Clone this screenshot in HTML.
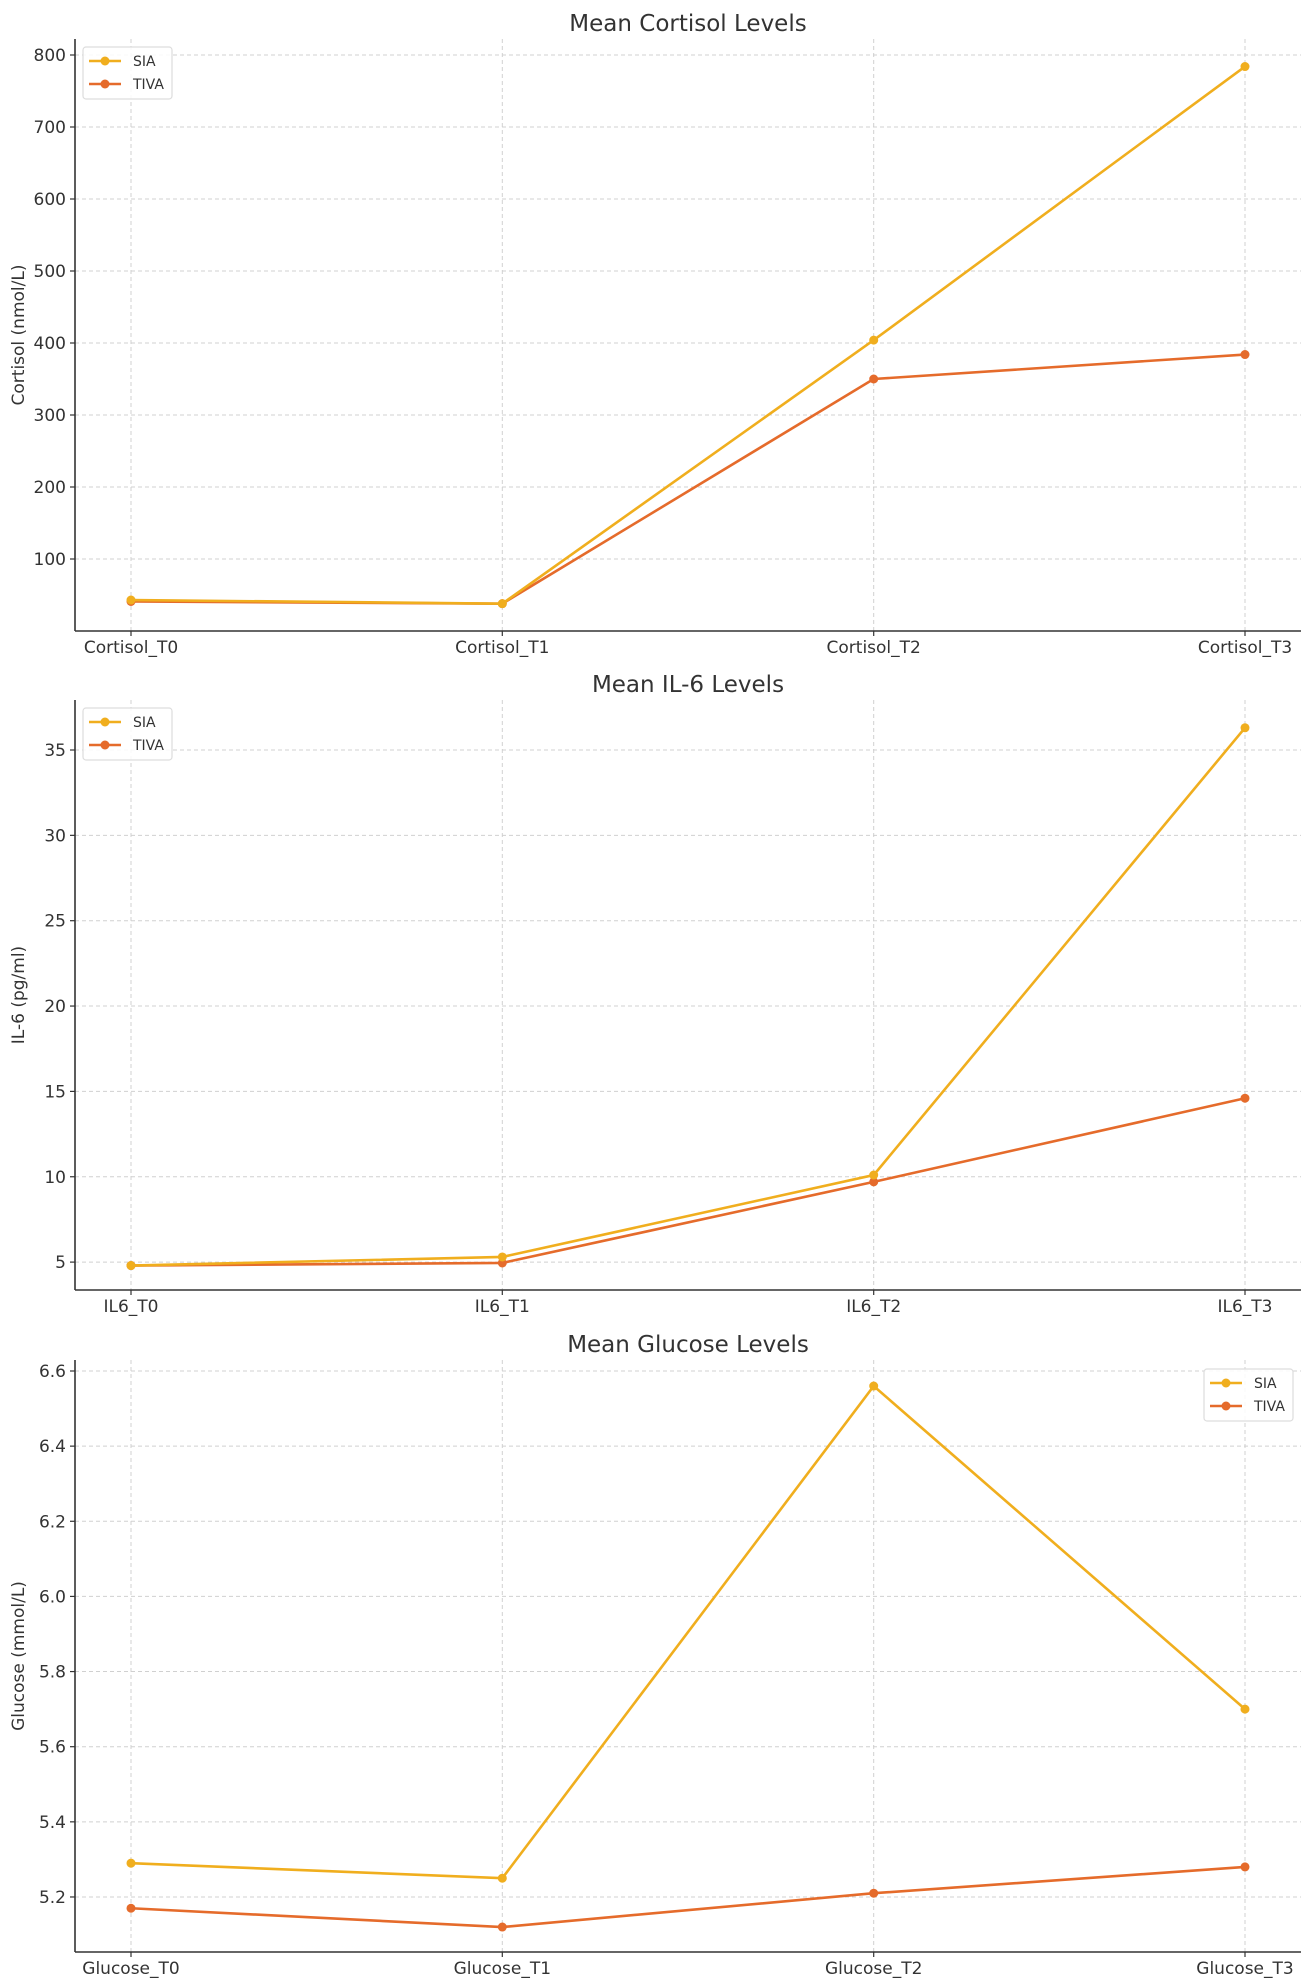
<!DOCTYPE html>
<html><head><meta charset="utf-8"><style>
html,body{margin:0;padding:0;background:#fff;}
svg{display:block;font-family:"DejaVu Sans","Liberation Sans",sans-serif;}
</style></head><body>
<svg id="s" width="1312" height="1988" xmlns="http://www.w3.org/2000/svg"></svg>
<script>
const S=document.getElementById('s');
let h='';
const X=[131,502.3,873.7,1245];
const SIA='#F0AE1E',TIVA='#E56B2B';
function chart(o){
  const L=75,R=1301,T=o.top,B=o.bot;
  const y=v=>o.y0+(o.v0-v)*o.k;
  o.ticks.forEach(t=>{const yy=y(t);
    h+=`<line x1="${L}" x2="${R}" y1="${yy}" y2="${yy}" stroke="#d0d0d0" stroke-width="1" stroke-dasharray="4,3"/>`;
    h+=`<line x1="${L-5}" x2="${L}" y1="${yy}" y2="${yy}" stroke="#333" stroke-width="1.2"/>`;
    h+=`<text x="${L-9}" y="${yy+6}" font-size="17" text-anchor="end" fill="#333">${o.fmt(t)}</text>`;});
  X.forEach((x,i)=>{
    h+=`<line x1="${x}" x2="${x}" y1="${T}" y2="${B}" stroke="#d0d0d0" stroke-width="1" stroke-dasharray="4,3"/>`;
    h+=`<line x1="${x}" x2="${x}" y1="${B}" y2="${B+5}" stroke="#333" stroke-width="1.2"/>`;
    h+=`<text x="${x}" y="${B+22}" font-size="17" text-anchor="middle" fill="#333">${o.lab}_T${i}</text>`;});
  h+=`<line x1="${L}" x2="${L}" y1="${T}" y2="${B}" stroke="#333" stroke-width="1.6"/>`;
  h+=`<line x1="${L}" x2="${R}" y1="${B}" y2="${B}" stroke="#333" stroke-width="1.6"/>`;
  h+=`<text x="688" y="${T-8}" font-size="23" text-anchor="middle" fill="#333">${o.title}</text>`;
  const cy=(T+B)/2;
  h+=`<text x="24" y="${cy}" font-size="17" text-anchor="middle" fill="#333" transform="rotate(-90 24 ${cy})">${o.ylab}</text>`;
  [[o.tiva,TIVA],[o.sia,SIA]].forEach(([d,c])=>{
    h+=`<polyline fill="none" stroke="${c}" stroke-width="2.6" points="${d.map((v,i)=>X[i]+','+y(v)).join(' ')}"/>`;
    d.forEach((v,i)=>h+=`<circle cx="${X[i]}" cy="${y(v)}" r="4.5" fill="${c}"/>`);});
  const lx=o.lx,ly=o.ly;
  h+=`<rect x="${lx}" y="${ly}" width="89" height="52" rx="3" fill="#fff" fill-opacity="0.85" stroke="#ddd" stroke-width="1.2"/>`;
  [[SIA,'SIA',14],[TIVA,'TIVA',37]].forEach(([c,t,dy])=>{
    h+=`<line x1="${lx+6}" x2="${lx+38}" y1="${ly+dy}" y2="${ly+dy}" stroke="${c}" stroke-width="2.6"/>`;
    h+=`<circle cx="${lx+22}" cy="${ly+dy}" r="4.5" fill="${c}"/>`;
    h+=`<text x="${lx+50}" y="${ly+dy+5}" font-size="14" fill="#333">${t}</text>`;});
}
chart({top:39,bot:631,y0:55,v0:800,k:0.72,ticks:[100,200,300,400,500,600,700,800],fmt:t=>t,
  lab:'Cortisol',title:'Mean Cortisol Levels',ylab:'Cortisol (nmol/L)',
  sia:[43,38,404,784],tiva:[41,38,350,384],lx:83,ly:47});
chart({top:700,bot:1290,y0:750,v0:35,k:17.07,ticks:[5,10,15,20,25,30,35],fmt:t=>t,
  lab:'IL6',title:'Mean IL-6 Levels',ylab:'IL-6 (pg/ml)',
  sia:[4.8,5.3,10.1,36.3],tiva:[4.8,4.95,9.7,14.6],lx:83,ly:708});
chart({top:1360,bot:1952,y0:1371,v0:6.6,k:375.7,ticks:[5.2,5.4,5.6,5.8,6.0,6.2,6.4,6.6],fmt:t=>t.toFixed(1),
  lab:'Glucose',title:'Mean Glucose Levels',ylab:'Glucose (mmol/L)',
  sia:[5.29,5.25,6.56,5.70],tiva:[5.17,5.12,5.21,5.28],lx:1204,ly:1369});
S.innerHTML=h;
</script>
</body></html>
